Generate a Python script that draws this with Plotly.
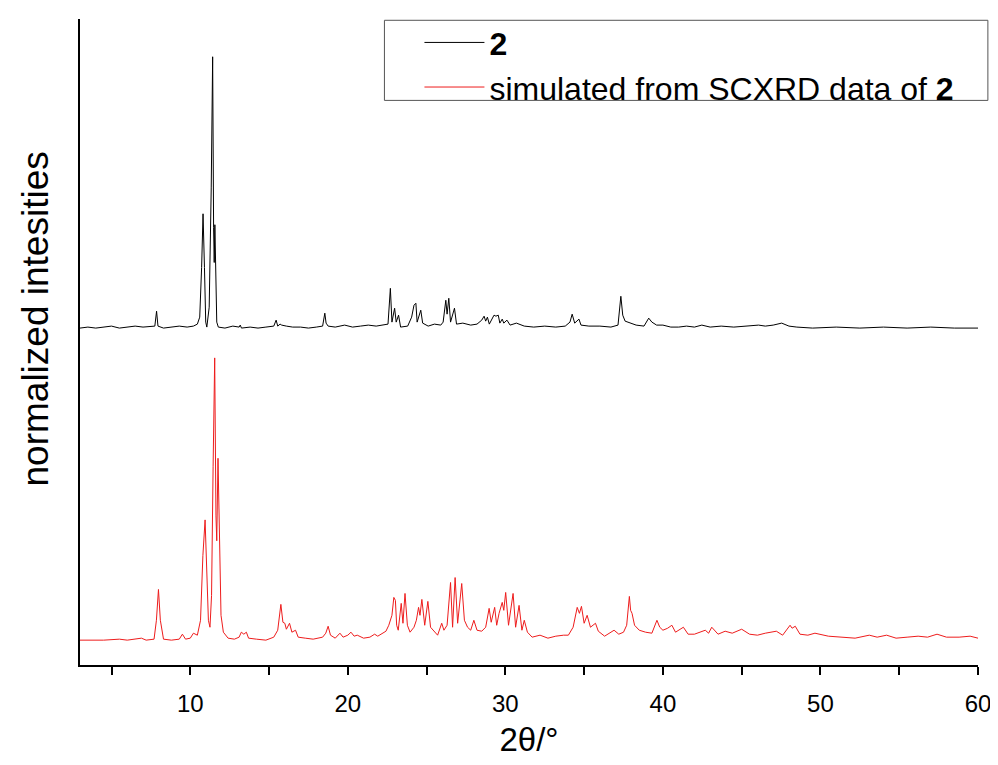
import plotly.graph_objects as go

# ---- data: 2theta (deg) and normalized intensity (arbitrary units, stacked) ----
exp_2theta = [3.0, 3.5, 4.0, 4.5, 5.0, 5.5, 6.0, 6.5, 7.0, 7.5, 7.75, 7.86, 7.95, 8.3, 8.8, 9.3, 9.8, 10.2,
              10.45, 10.6, 10.72, 10.81, 10.9, 10.98, 11.05, 11.2, 11.33, 11.42, 11.48, 11.52, 11.56, 11.62,
              11.68, 11.78, 12.2, 12.7, 13.1, 13.17, 13.25, 13.8, 14.3, 14.8, 15.3, 15.45, 15.55, 15.7, 15.8,
              16.1, 16.5, 17.0, 17.5, 18.0, 18.4, 18.54, 18.62, 18.75, 19.2, 19.8, 20.0, 20.3, 20.8, 21.3,
              21.8, 22.3, 22.55, 22.7, 22.8, 22.97, 23.07, 23.22, 23.35, 23.8, 24.05, 24.2, 24.32, 24.4,
              24.63, 24.75, 25.1, 25.5, 25.9, 26.05, 26.22, 26.3, 26.41, 26.52, 26.77, 26.9, 27.3, 27.8,
              28.2, 28.5, 28.65, 28.75, 28.86, 28.98, 29.28, 29.4, 29.55, 29.65, 29.8, 29.9, 30.1, 30.3,
              30.7, 31.2, 31.8, 32.5, 33.2, 33.8, 34.1, 34.24, 34.4, 34.67, 34.8, 35.3, 36.0, 36.7, 37.15,
              37.33, 37.45, 37.6, 37.9, 38.3, 38.8, 39.1, 39.3, 39.6, 40.0, 40.5, 41.0, 41.5, 42.0, 42.47,
              43.0, 43.7, 44.5, 45.3, 46.07, 46.5, 47.0, 47.54, 48.0, 48.5, 49.5, 51.0, 52.5, 54.0, 55.5,
              57.0, 58.5, 60.0]
exp_int = [339, 340, 339, 340, 341, 339, 340, 341, 340, 341, 341, 356, 341, 339, 340, 341, 340, 341,
           343, 350, 400, 454, 400, 345, 340, 360, 480, 612, 440, 405, 443, 390,
           345, 340, 339, 341, 340, 342, 339, 340, 339, 340, 341, 347, 341, 343, 342,
           341, 340, 340, 339, 340, 341, 354, 344, 341, 340, 342, 341, 340, 341, 342,
           341, 342, 343, 379, 345, 359, 345, 352, 340, 341, 350, 362, 364, 345,
           357, 344, 341, 343, 342, 345, 367, 353, 369, 345, 359, 343, 344, 342,
           343, 347, 351, 346, 350, 343, 352, 351, 352, 344, 348, 344, 347, 342,
           344, 341, 340, 341, 340, 341, 345, 353, 344, 348, 342, 341, 341, 340, 342,
           371, 352, 346, 344, 342, 341, 349, 345, 342, 342, 340, 340, 341, 340, 342,
           340, 341, 340, 341, 342, 341, 342, 344, 341, 340, 339, 340, 339, 340, 339,
           340, 339, 339]

sim_2theta = [3.0, 4.5, 5.5, 6.0, 6.9, 7.2, 7.7, 7.85, 7.98, 8.1, 8.3, 8.8, 9.3, 9.5, 9.7, 10.0, 10.2,
              10.45, 10.65, 10.8, 10.94, 11.05, 11.15, 11.25, 11.35, 11.45, 11.55, 11.63, 11.68, 11.76,
              11.86, 11.95, 12.1, 12.4, 12.8, 13.1, 13.24, 13.4, 13.56, 13.7, 14.2, 14.8, 15.3, 15.55,
              15.75, 15.88, 16.0, 16.1, 16.3, 16.45, 16.68, 16.85, 17.3, 17.8, 18.4, 18.6, 18.75, 18.9,
              19.2, 19.5, 19.7, 20.0, 20.2, 20.4, 20.6, 21.0, 21.4, 21.7, 21.9, 22.2, 22.42, 22.6, 22.8,
              22.92, 23.02, 23.1, 23.2, 23.39, 23.5, 23.63, 23.78, 23.95, 24.2, 24.35, 24.49, 24.58,
              24.7, 24.88, 25.08, 25.25, 25.5, 25.7, 25.96, 26.1, 26.3, 26.52, 26.65, 26.81, 26.97,
              27.23, 27.4, 27.6, 27.8, 28.0, 28.2, 28.5, 28.75, 28.97, 29.1, 29.32, 29.45, 29.6, 29.8,
              29.9, 30.02, 30.2, 30.49, 30.65, 30.87, 31.05, 31.2, 31.4, 31.7, 32.2, 32.7, 33.2, 33.7,
              34.0, 34.3, 34.56, 34.7, 34.83, 35.0, 35.19, 35.4, 35.72, 35.9, 36.3, 36.9, 37.2, 37.5,
              37.7, 37.87, 37.95, 38.04, 38.2, 38.5, 38.9, 39.3, 39.62, 39.8, 40.0, 40.3, 40.57, 40.8,
              41.3, 41.6, 42.0, 42.69, 42.9, 43.1, 43.5, 43.95, 44.4, 45.0, 45.5, 46.0, 46.5, 47.2,
              47.6, 48.07, 48.2, 48.4, 48.7, 49.2, 49.65, 50.5, 51.5, 52.2, 53.1, 53.6, 54.2, 54.8,
              55.5, 56.2, 56.8, 57.4, 58.0, 58.8, 59.5, 60.0]
sim_int = [25, 25, 26, 25, 27, 25, 26, 45, 76, 45, 26, 25, 26, 31, 26, 27, 32,
           30, 45, 110, 146, 100, 45, 38, 70, 200, 309, 150, 125, 208,
           110, 50, 33, 27, 26, 28, 33, 31, 33, 27, 26, 25, 28, 35,
           61, 43, 42, 36, 42, 33, 35, 28, 27, 26, 28, 32, 39, 30,
           27, 32, 28, 30, 33, 29, 30, 27, 28, 31, 29, 32, 34, 40, 50,
           68, 65, 40, 35, 62, 42, 72, 40, 33, 38, 45, 58, 50,
           66, 40, 64, 38, 33, 30, 42, 35, 40, 83, 38, 88, 42,
           82, 45, 38, 35, 45, 35, 34, 38, 57, 43, 58, 40, 52, 63,
           55, 73, 40, 72, 38, 60, 35, 45, 33, 28, 30, 27, 29, 30,
           30, 38, 58, 52, 59, 42, 50, 38, 42, 34, 29, 35, 31, 33,
           40, 69, 55, 52, 40, 35, 33, 32, 45, 38, 35, 37, 40, 33,
           38, 31, 31, 35, 32, 38, 31, 34, 32, 36, 31, 30, 32, 34,
           30, 40, 37, 39, 31, 30, 32, 29, 28, 27, 30, 28, 30, 27,
           28, 29, 28, 31, 28, 28, 29, 27]

x_ticks = [10, 20, 30, 40, 50, 60]

FONT = "Liberation Sans, Arial, sans-serif"

fig = go.Figure()
fig.add_trace(go.Scatter(x=exp_2theta, y=exp_int, mode="lines", name="<b>2</b>",
                         line=dict(color="#000000", width=1)))
fig.add_trace(go.Scatter(x=sim_2theta, y=sim_int, mode="lines",
                         name="simulated from SCXRD data of <b>2</b>",
                         line=dict(color="#ee1c1c", width=1)))

fig.update_layout(
    width=990, height=757,
    margin=dict(l=72, r=18, t=7, b=100),
    paper_bgcolor="white", plot_bgcolor="white",
    font=dict(family=FONT, color="black"),
    showlegend=True,
    legend=dict(x=0.378, y=1.006, xanchor="left", yanchor="top",
                font=dict(size=32, family=FONT),
                bgcolor="rgba(255,255,255,0)", borderwidth=0,
                itemwidth=60, tracegroupgap=0),
    shapes=[dict(type="rect", xref="paper", yref="paper",
                 x0=0.339, x1=1.011, y0=0.874, y1=0.998,
                 line=dict(color="#555555", width=1))],
    annotations=[dict(text="normalized intesities", xref="paper", yref="paper",
                      x=-0.05, y=0.535, xanchor="center", yanchor="middle",
                      textangle=-90, showarrow=False,
                      font=dict(size=37, family=FONT, color="black"))],
)
fig.update_xaxes(range=[3, 60], showline=True, linecolor="black", linewidth=1.5,
                 showgrid=False, zeroline=False, ticks="outside", ticklen=8, tickwidth=1.5,
                 tickcolor="black", tickvals=x_ticks, ticktext=[str(v) for v in x_ticks],
                 tickfont=dict(size=24, family=FONT), ticklabelstandoff=8,
                 minor=dict(dtick=5, tick0=0, ticks="outside", ticklen=8, tickwidth=1.5,
                            tickcolor="black"),
                 title=dict(text="2θ/°", font=dict(size=33, family=FONT), standoff=12))
fig.update_yaxes(range=[0, 650], showline=True, linecolor="black", linewidth=2,
                 showgrid=False, zeroline=False, showticklabels=False, ticks="")

fig.write_html("out.html")
